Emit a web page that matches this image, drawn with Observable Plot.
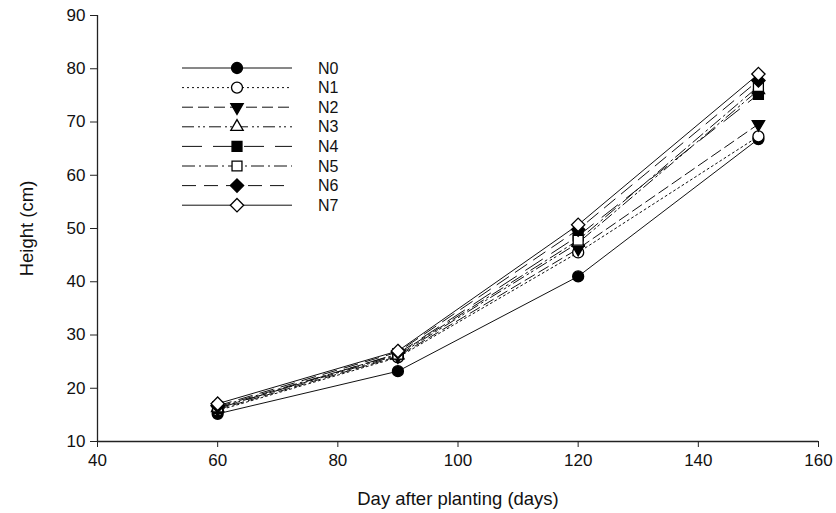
<!DOCTYPE html>
<html>
<head>
<meta charset="utf-8">
<script src="https://cdn.jsdelivr.net/npm/d3@7"></script>
<script src="https://cdn.jsdelivr.net/npm/@observablehq/plot@0.6"></script>
<style>
  body { margin: 0; background: #fff; }
  #wrap { position: relative; width: 836px; height: 513px; }
  #legend { position: absolute; left: 0; top: 0; }
  #chart svg g[aria-label$="tick label"] text, #chart svg g[aria-label$="tick label"] { font-size: 17px !important; fill: #111; }
  #chart svg g[aria-label$="axis label"] text, #chart svg g[aria-label$="axis label"] { font-size: 18.5px !important; fill: #111; }
</style>
</head>
<body>
<div id="wrap"><div id="chart"></div><svg id="legend" width="836" height="513"></svg></div>
<script>
const days = [60, 90, 120, 150];
const seriesNames = ["N0", "N1", "N2", "N3", "N4", "N5", "N6", "N7"];
const N0 = [15.2, 23.2, 41.0, 66.8];
const N1 = [15.8, 25.8, 45.5, 67.3];
const N2 = [16.0, 26.0, 46.2, 69.6];
const N3 = [16.3, 26.2, 47.3, 76.0];
const N4 = [16.2, 26.5, 48.6, 75.2];
const N5 = [16.5, 26.4, 47.8, 76.7];
const N6 = [16.7, 26.8, 49.8, 77.8];
const N7 = [17.1, 27.0, 50.7, 79.0];
const values = [N0, N1, N2, N3, N4, N5, N6, N7];
const xTicks = [40, 60, 80, 100, 120, 140, 160];
const yTicks = [10, 20, 30, 40, 50, 60, 70, 80, 90];

const triangleDown = {
  draw(context, size) {
    const y = -Math.sqrt(size / (Math.sqrt(3) * 3));
    context.moveTo(0, -y * 2);
    context.lineTo(-Math.sqrt(3) * y, y);
    context.lineTo(Math.sqrt(3) * y, y);
    context.closePath();
  }
};
const triangleUp = {
  draw(context, size) {
    const y = -Math.sqrt(size / (Math.sqrt(3) * 3));
    context.moveTo(0, y * 2);
    context.lineTo(-Math.sqrt(3) * y, -y);
    context.lineTo(Math.sqrt(3) * y, -y);
    context.closePath();
  }
};
const styles = [
  {dash: null, symbol: d3.symbolCircle, fill: "black", r: 5.5},
  {dash: "2,3", symbol: d3.symbolCircle, fill: "white", r: 5.5},
  {dash: "11,5", symbol: triangleDown, fill: "black", r: 4.6},
  {dash: "12,4,2,3,2,4", symbol: triangleUp, fill: "white", r: 4.6},
  {dash: "20,11", symbol: d3.symbolSquare, fill: "black", r: 5.6},
  {dash: "13,4,2,4", symbol: d3.symbolSquare, fill: "white", r: 5.6},
  {dash: "14,8", symbol: d3.symbolDiamond2, fill: "black", r: 6},
  {dash: null, symbol: d3.symbolDiamond2, fill: "white", r: 6}
];

const rows = [];
seriesNames.forEach((name, i) => days.forEach((d, j) => rows.push({name, day: d, height: values[i][j], i})));

const marks = [
  Plot.ruleY([10], {stroke: "#222", strokeWidth: 1.3}),
  Plot.ruleX([40], {y1: 10, y2: 90, stroke: "#222", strokeWidth: 1.3})
];
seriesNames.forEach((name, i) => {
  const s = styles[i];
  const data = rows.filter(r => r.name === name);
  marks.push(Plot.line(data, {x: "day", y: "height", stroke: "#111", strokeWidth: 1, strokeDasharray: s.dash || undefined}));
});
seriesNames.forEach((name, i) => {
  const s = styles[i];
  const data = rows.filter(r => r.name === name);
  marks.push(Plot.dot(data, {x: "day", y: "height", symbol: s.symbol, r: s.r, fill: s.fill, stroke: "black", strokeWidth: 1.3}));
});

const plot = Plot.plot({
  width: 836,
  height: 513,
  marginLeft: 97,
  marginRight: 18,
  marginTop: 15,
  marginBottom: 72,
  style: {fontFamily: "'Liberation Sans', Arial, sans-serif", fontSize: "16px", color: "#111", background: "white"},
  x: {domain: [40, 160]},
  y: {domain: [10, 90]},
  marks: [
    ...marks,
    Plot.axisX({ticks: xTicks, tickSize: 6, tickPadding: 6, label: "Day after planting (days)", labelAnchor: "center", labelOffset: 63, labelArrow: "none", stroke: "#222"}),
    Plot.axisY({ticks: yTicks, tickSize: 7, tickPadding: 5, label: "Height (cm)", labelAnchor: "center", labelOffset: 78, labelArrow: "none", stroke: "#222"})
  ]
});
document.getElementById("chart").appendChild(plot);

// legend overlay
const leg = d3.select("#legend");
const legX1 = 182, legX2 = 292, legMid = 237, legTextX = 318, legTop = 68, legStep = 19.6;
seriesNames.forEach((name, i) => {
  const s = styles[i];
  const y = legTop + i * legStep;
  leg.append("line").attr("x1", legX1).attr("x2", legX2).attr("y1", y).attr("y2", y)
    .attr("stroke", "#111").attr("stroke-width", 1).attr("stroke-dasharray", s.dash);
  leg.append("path").attr("transform", `translate(${legMid},${y})`)
    .attr("d", d3.symbol(s.symbol, s.r * s.r * Math.PI)())
    .attr("fill", s.fill).attr("stroke", "black").attr("stroke-width", 1.3);
  leg.append("text").attr("x", legTextX).attr("y", y).attr("dy", "0.35em")
    .attr("font-family", "'Liberation Sans', Arial, sans-serif").attr("font-size", 16).attr("fill", "#111")
    .text(name);
});
</script>
</body>
</html>
